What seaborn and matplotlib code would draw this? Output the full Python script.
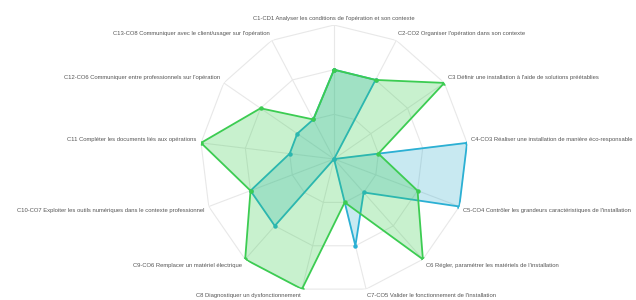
import numpy as np
import matplotlib
matplotlib.use("Agg")
import matplotlib.pyplot as plt
import seaborn as sns

competences = [
    "C1-CD1 Analyser les conditions de l'opération et son contexte",
    "C2-CO2 Organiser l'opération dans son contexte",
    "C3 Définir une installation à l'aide de solutions préétablies",
    "C4-CO3 Réaliser une installation de manière éco-responsable",
    "C5-CO4 Contrôler les grandeurs caractéristiques de l'installation",
    "C6 Régler, paramétrer les matériels de l'installation",
    "C7-CO5 Valider le fonctionnement de l'installation",
    "C8 Diagnostiquer un dysfonctionnement",
    "C9-CO6 Remplacer un matériel électrique",
    "C10-CO7 Exploiter les outils numériques dans le contexte professionnel",
    "C11 Compléter les documents liés aux opérations",
    "C12-CO6 Communiquer entre professionnels sur l'opération",
    "C13-CO8 Communiquer avec le client/usager sur l'opération",
]
niveau_vert = [2, 2, 3, 1, 2, 3, 1, 3, 3, 2, 3, 2, 1]
niveau_bleu = [2, 2, 0, 3, 3, 1, 2, 0, 2, 2, 1, 1, 1]
niveaux_grille = [1, 2, 3]

sns.set_theme(style="white")
plt.rcParams['font.family'] = ['Liberation Sans', 'DejaVu Sans']

n = len(competences)
angles = np.linspace(0, 2 * np.pi, n, endpoint=False)
ang_c = np.append(angles, angles[0])

fig = plt.figure(figsize=(6.36, 3.0), dpi=100)
ax = fig.add_axes([0.3145, 0.0233, 0.4214, 0.8933], projection='polar')
ax.set_theta_zero_location('N')
ax.set_theta_direction(-1)
ax.set_ylim(0, 3)
ax.grid(False)
ax.set_xticks([])
ax.set_yticks([])
ax.spines['polar'].set_visible(False)
ax.patch.set_alpha(0)

# toile polygonale
for lv in niveaux_grille:
    ax.plot(ang_c, [lv] * (n + 1), color='#e8e8e8', lw=0.8, zorder=1)
for a in angles:
    ax.plot([a, a], [0, max(niveaux_grille)], color='#e8e8e8', lw=0.8, zorder=1)

bleu = '#2bb0d4'
vert = '#3ccc52'

vb = np.append(niveau_bleu, niveau_bleu[0])
ax.fill(ang_c, vb, color='#1aa5c8', alpha=0.24, lw=0, zorder=2)
ax.plot(ang_c, vb, color=bleu, lw=1.3, marker='o', ms=2.2, zorder=3)

vv = np.append(niveau_vert, niveau_vert[0])
ax.fill(ang_c, vv, color='#2ecc45', alpha=0.26, lw=0, zorder=4)
ax.plot(ang_c, vv, color=vert, lw=1.3, marker='o', ms=2.2, zorder=5)

r_lab = 3.1
for a, lab in zip(angles, competences):
    deg = np.degrees(a)
    if np.isclose(deg, 0) or np.isclose(deg, 180):
        ha = 'center'
    elif deg < 180:
        ha = 'left'
    else:
        ha = 'right'
    if deg < 90 or deg > 270:
        va = 'bottom'
    else:
        va = 'top'
    ax.text(a, r_lab, lab, ha=ha, va=va, fontsize=4.2, color='#555555', clip_on=False)

fig.savefig('out.png', dpi=100)
plt.close(fig)
